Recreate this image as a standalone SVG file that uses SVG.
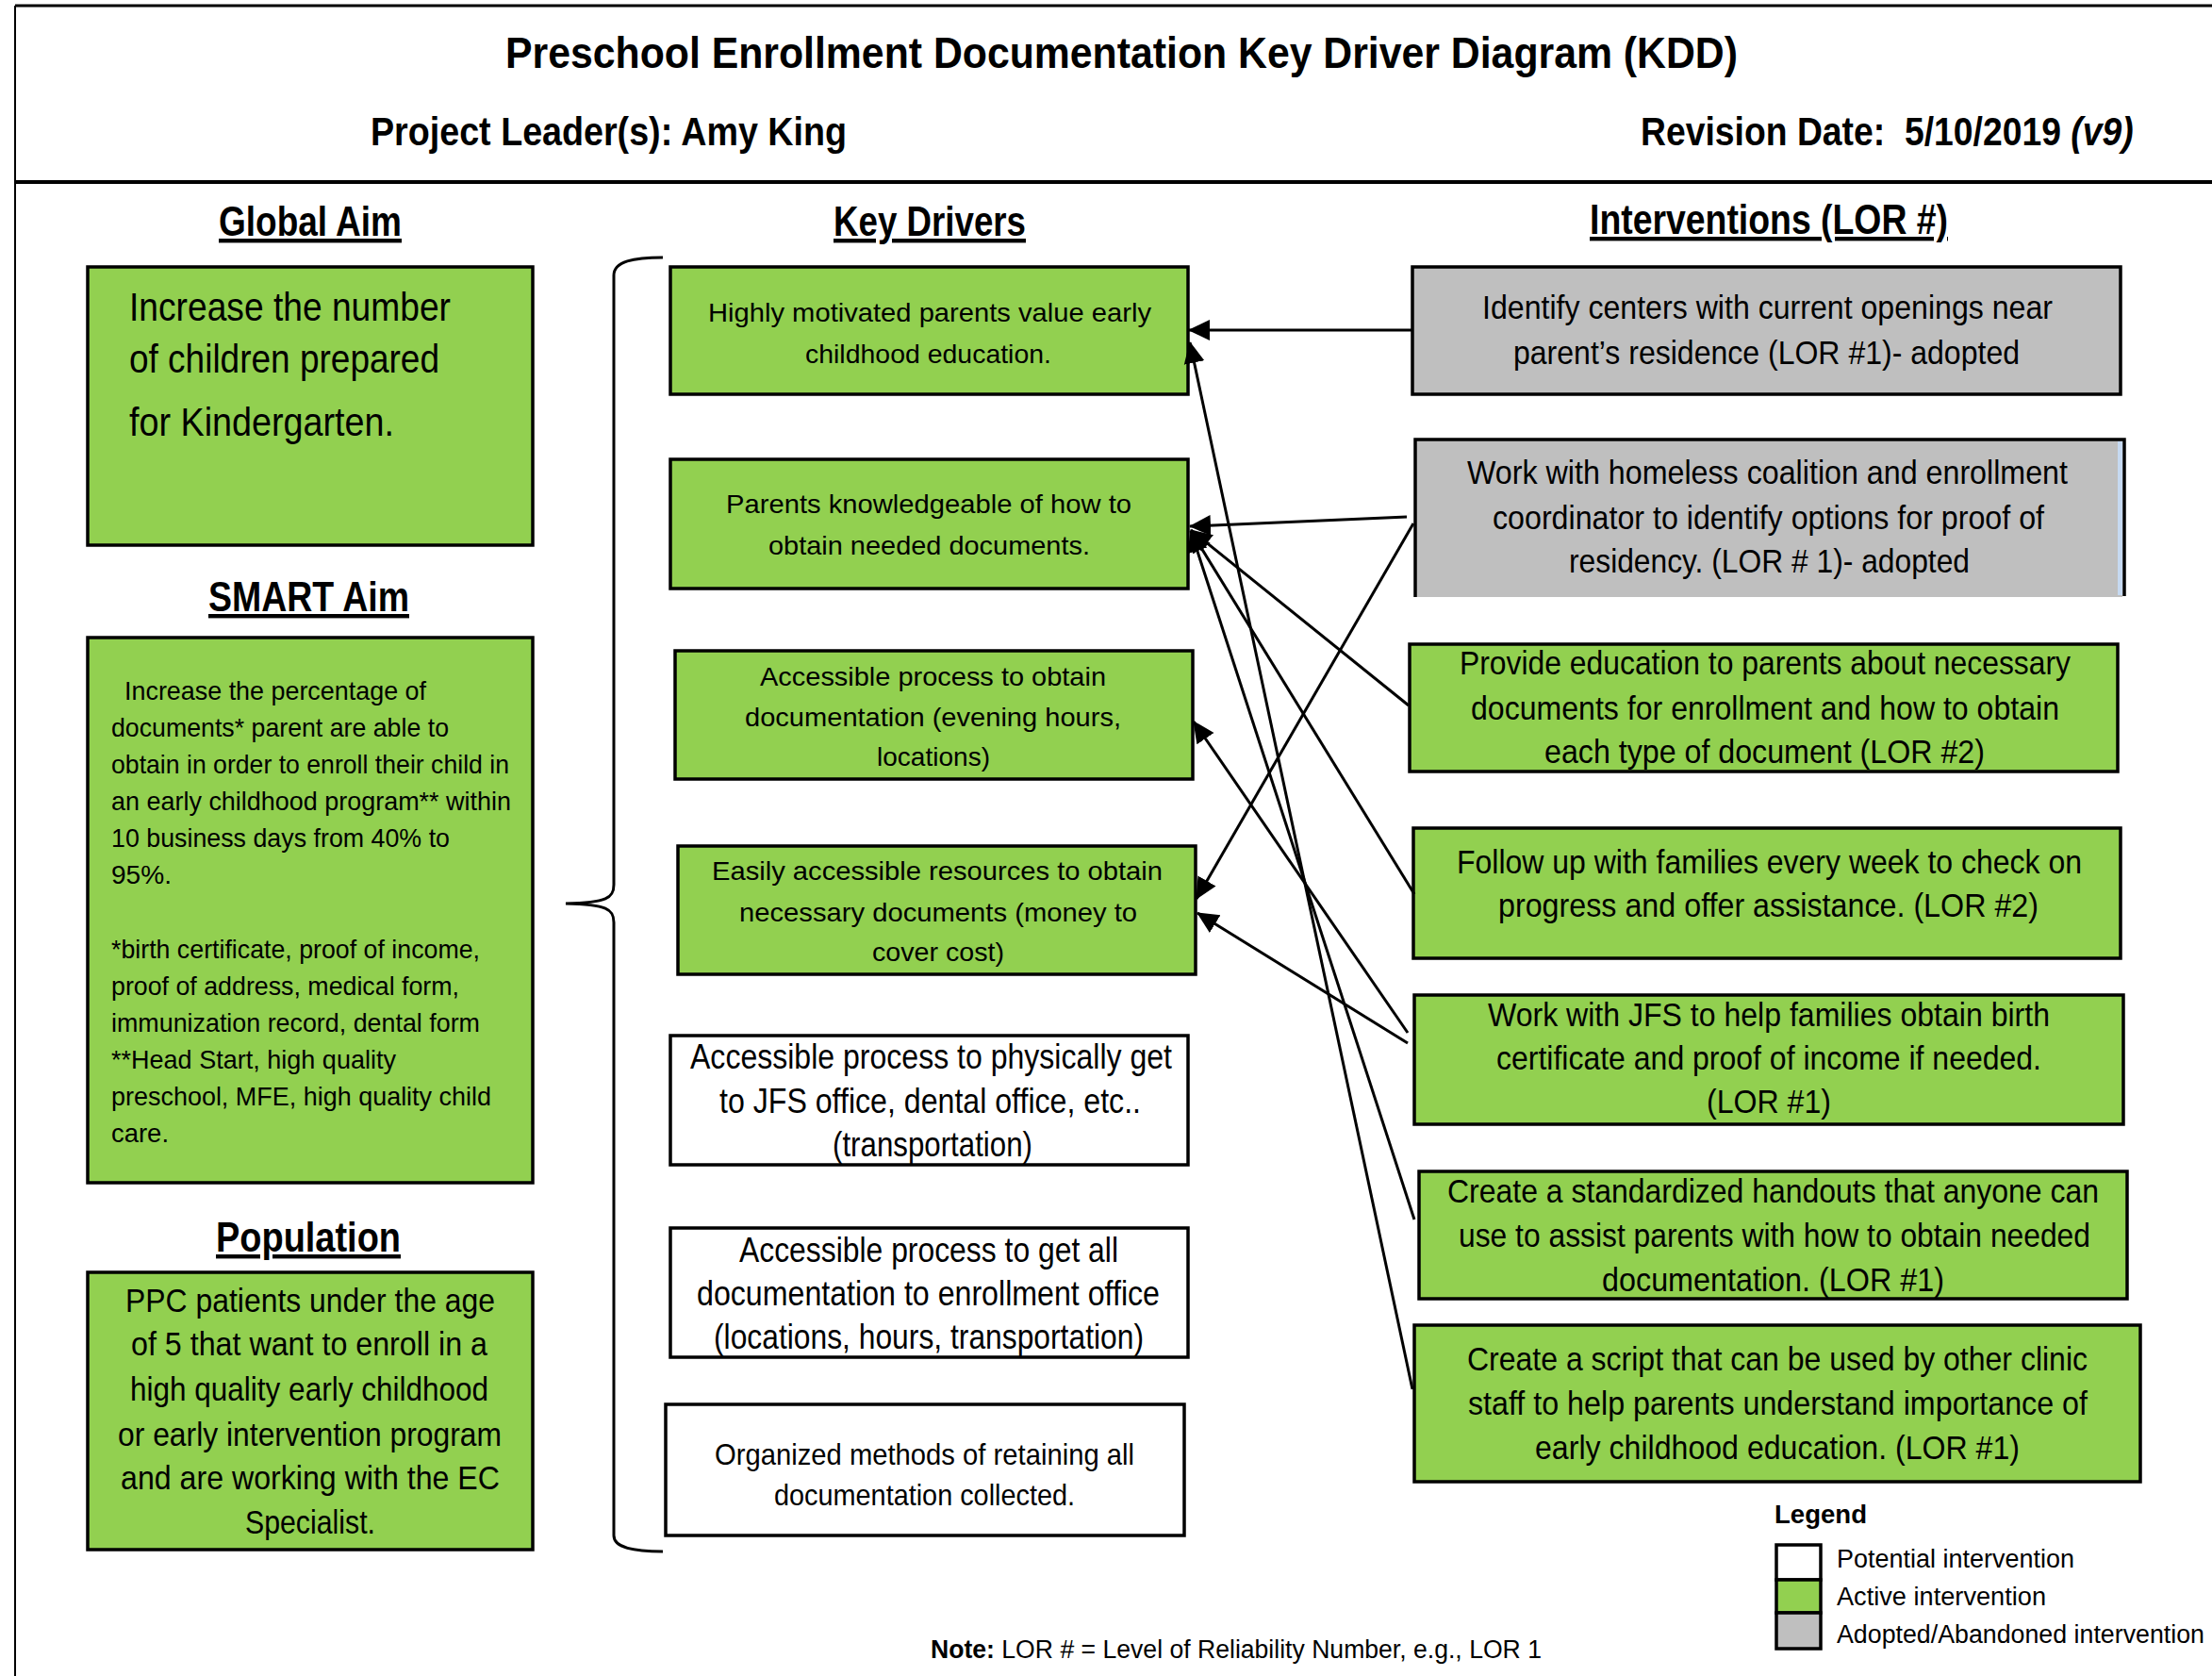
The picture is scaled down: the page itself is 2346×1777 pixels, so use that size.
<svg xmlns="http://www.w3.org/2000/svg" width="2346" height="1777" viewBox="0 0 2346 1777">
  <defs>
    <style>
      text { font-family: "Liberation Sans", Arial, sans-serif; fill: #000; }
      .t { font-weight: bold; }
      .h { font-weight: bold; font-size: 44px; text-decoration: underline; }
      .green { fill: #92D050; stroke: #000; stroke-width: 3.5; }
      .grey { fill: #BFBFBF; stroke: #000; stroke-width: 3.5; }
      .white { fill: #FFFFFF; stroke: #000; stroke-width: 3.5; }
      .frame { stroke: #000; fill: none; }
      .edge { stroke: #000; stroke-width: 3.5; fill: none; }
      .conn { stroke: #000; stroke-width: 3; fill: none; marker-end: url(#arrow); }
      .aim { font-size: 42px; }
      .smart { font-size: 28px; }
      .pop { font-size: 35px; }
      .kd { font-size: 28px; }
      .kdw { font-size: 36px; }
      .kd7 { font-size: 32px; }
      .iv { font-size: 35px; }
      .lg { font-size: 27px; }
    </style>
    <marker id="arrow" markerUnits="userSpaceOnUse" markerWidth="24" markerHeight="24" viewBox="0 0 24 24" refX="22" refY="12" orient="auto">
      <path d="M0,1 L23,12 L0,23 Z" fill="#000"/>
    </marker>
  </defs>

  <rect x="0" y="0" width="2346" height="1777" fill="#FFFFFF"/>

  <!-- page frame and header rule -->
  <g id="frame">
    <line class="frame" x1="16" y1="6" x2="2346" y2="6" stroke-width="3"/>
    <line class="frame" x1="16" y1="6" x2="16" y2="1777" stroke-width="2"/>
    <line class="frame" x1="16" y1="193" x2="2346" y2="193" stroke-width="4"/>
  </g>

  <!-- header -->
  <g id="header">
    <text class="t" x="536" y="72" font-size="47" textLength="1307" lengthAdjust="spacingAndGlyphs">Preschool Enrollment Documentation Key Driver Diagram (KDD)</text>
    <text class="t" x="393" y="154" font-size="43" textLength="505" lengthAdjust="spacingAndGlyphs">Project Leader(s): Amy King</text>
    <g transform="translate(1740,154) scale(0.868,1)">
      <text class="t" x="0" y="0" font-size="43">Revision Date:&#160; 5/10/2019 <tspan font-style="italic">(v9)</tspan></text>
    </g>
  </g>

  <!-- column headings -->
  <g id="headings">
    <text class="h" x="232" y="250" textLength="194" lengthAdjust="spacingAndGlyphs">Global Aim</text>
    <text class="h" x="884" y="250" textLength="204" lengthAdjust="spacingAndGlyphs">Key Drivers</text>
    <text class="h" x="1686" y="248" textLength="380" lengthAdjust="spacingAndGlyphs">Interventions (LOR #)</text>
    <text class="h" x="221" y="648" textLength="213" lengthAdjust="spacingAndGlyphs">SMART Aim</text>
    <text class="h" x="229" y="1327" textLength="196" lengthAdjust="spacingAndGlyphs">Population</text>
  </g>

  <!-- left column -->
  <g id="global-aim">
    <rect class="green" x="93" y="283" width="472" height="295"/>
    <text class="aim" x="137" y="340" textLength="341" lengthAdjust="spacingAndGlyphs">Increase  the number</text>
    <text class="aim" x="137" y="395" textLength="329" lengthAdjust="spacingAndGlyphs">of children  prepared</text>
    <text class="aim" x="137" y="462" textLength="281" lengthAdjust="spacingAndGlyphs">for Kindergarten.</text>
  </g>

  <g id="smart-aim">
    <rect class="green" x="93" y="676" width="472" height="578"/>
    <text class="smart" x="132" y="742" textLength="320" lengthAdjust="spacingAndGlyphs">Increase the percentage of</text>
    <text class="smart" x="118" y="781" textLength="358" lengthAdjust="spacingAndGlyphs">documents* parent are able to</text>
    <text class="smart" x="118" y="820" textLength="422" lengthAdjust="spacingAndGlyphs">obtain in order to enroll their child in</text>
    <text class="smart" x="118" y="859" textLength="424" lengthAdjust="spacingAndGlyphs">an early childhood program** within</text>
    <text class="smart" x="118" y="898" textLength="359" lengthAdjust="spacingAndGlyphs">10 business days from 40% to</text>
    <text class="smart" x="118" y="937" textLength="64" lengthAdjust="spacingAndGlyphs">95%.</text>
    <text class="smart" x="118" y="1016" textLength="391" lengthAdjust="spacingAndGlyphs">*birth certificate, proof of income,</text>
    <text class="smart" x="118" y="1055" textLength="369" lengthAdjust="spacingAndGlyphs">proof of address, medical form,</text>
    <text class="smart" x="118" y="1094" textLength="391" lengthAdjust="spacingAndGlyphs">immunization record, dental form</text>
    <text class="smart" x="118" y="1133" textLength="302" lengthAdjust="spacingAndGlyphs">**Head Start, high quality</text>
    <text class="smart" x="118" y="1172" textLength="403" lengthAdjust="spacingAndGlyphs">preschool, MFE, high quality child</text>
    <text class="smart" x="118" y="1211" textLength="61" lengthAdjust="spacingAndGlyphs">care.</text>
  </g>

  <g id="population">
    <rect class="green" x="93" y="1349" width="472" height="294"/>
    <text class="pop" x="133" y="1391" textLength="392" lengthAdjust="spacingAndGlyphs">PPC patients  under  the age</text>
    <text class="pop" x="139" y="1437" textLength="378" lengthAdjust="spacingAndGlyphs">of 5 that want to enroll  in a</text>
    <text class="pop" x="138" y="1485" textLength="380" lengthAdjust="spacingAndGlyphs">high  quality  early  childhood</text>
    <text class="pop" x="125" y="1533" textLength="407" lengthAdjust="spacingAndGlyphs">or early  intervention  program</text>
    <text class="pop" x="128" y="1579" textLength="402" lengthAdjust="spacingAndGlyphs">and are working with the EC</text>
    <text class="pop" x="260" y="1626" textLength="138" lengthAdjust="spacingAndGlyphs">Specialist.</text>
  </g>

  <!-- brace grouping the key drivers -->
  <g id="brace">
    <path d="M703 273 C672 273 651 277 651 292 L651 938 C651 952 644 957 600 958 C644 959 651 964 651 978 L651 1628 C651 1641 672 1645 703 1645" fill="none" stroke="#000" stroke-width="3"/>
  </g>

  <!-- key drivers -->
  <g id="kd1">
    <rect class="green" x="711" y="283" width="549" height="135"/>
    <text class="kd" x="751" y="341" textLength="470" lengthAdjust="spacingAndGlyphs">Highly  motivated  parents  value  early</text>
    <text class="kd" x="854" y="385" textLength="261" lengthAdjust="spacingAndGlyphs">childhood  education.</text>
  </g>
  <g id="kd2">
    <rect class="green" x="711" y="487" width="549" height="137"/>
    <text class="kd" x="770" y="544" textLength="430" lengthAdjust="spacingAndGlyphs">Parents  knowledgeable  of how to</text>
    <text class="kd" x="815" y="588" textLength="341" lengthAdjust="spacingAndGlyphs">obtain  needed  documents.</text>
  </g>
  <g id="kd3">
    <rect class="green" x="716" y="690" width="549" height="136"/>
    <text class="kd" x="806" y="727" textLength="367" lengthAdjust="spacingAndGlyphs">Accessible  process  to obtain</text>
    <text class="kd" x="790" y="770" textLength="399" lengthAdjust="spacingAndGlyphs">documentation  (evening  hours,</text>
    <text class="kd" x="930" y="812" textLength="120" lengthAdjust="spacingAndGlyphs">locations)</text>
  </g>
  <g id="kd4">
    <rect class="green" x="719" y="897" width="549" height="136"/>
    <text class="kd" x="755" y="933" textLength="478" lengthAdjust="spacingAndGlyphs">Easily  accessible  resources  to obtain</text>
    <text class="kd" x="784" y="977" textLength="422" lengthAdjust="spacingAndGlyphs">necessary  documents  (money  to</text>
    <text class="kd" x="925" y="1019" textLength="140" lengthAdjust="spacingAndGlyphs">cover cost)</text>
  </g>
  <g id="kd5">
    <rect class="white" x="711" y="1098" width="549" height="137"/>
    <text class="kdw" x="732" y="1133" textLength="511" lengthAdjust="spacingAndGlyphs">Accessible  process  to physically  get</text>
    <text class="kdw" x="763" y="1180" textLength="447" lengthAdjust="spacingAndGlyphs">to JFS office,  dental  office,  etc..</text>
    <text class="kdw" x="883" y="1226" textLength="212" lengthAdjust="spacingAndGlyphs">(transportation)</text>
  </g>
  <g id="kd6">
    <rect class="white" x="711" y="1302" width="549" height="137"/>
    <text class="kdw" x="784" y="1338" textLength="402" lengthAdjust="spacingAndGlyphs">Accessible  process  to get all</text>
    <text class="kdw" x="739" y="1384" textLength="491" lengthAdjust="spacingAndGlyphs">documentation  to enrollment  office</text>
    <text class="kdw" x="757" y="1430" textLength="456" lengthAdjust="spacingAndGlyphs">(locations,  hours,  transportation)</text>
  </g>
  <g id="kd7">
    <rect class="white" x="706" y="1489" width="550" height="139"/>
    <text class="kd7" x="758" y="1553" textLength="445" lengthAdjust="spacingAndGlyphs">Organized  methods  of retaining  all</text>
    <text class="kd7" x="821" y="1596" textLength="319" lengthAdjust="spacingAndGlyphs">documentation  collected.</text>
  </g>

  <!-- interventions -->
  <g id="iv1">
    <rect class="grey" x="1498" y="283" width="751" height="135"/>
    <text class="iv" x="1572" y="338" textLength="605" lengthAdjust="spacingAndGlyphs">Identify  centers  with  current  openings  near</text>
    <text class="iv" x="1605" y="386" textLength="537" lengthAdjust="spacingAndGlyphs">parent’s  residence  (LOR #1)- adopted</text>
  </g>
  <g id="iv2">
    <!-- open-bottomed box: black top, left and right edges, pale blue inner strip on the right -->
    <rect x="1501" y="466" width="750" height="167" fill="#BFBFBF"/>
    <rect x="2246" y="468" width="5" height="163" fill="#C6D9F1"/>
    <path class="edge" d="M1501 633 L1501 466 L2253 466 L2253 632"/>
    <text class="iv" x="1556" y="513" textLength="637" lengthAdjust="spacingAndGlyphs">Work with homeless  coalition   and enrollment</text>
    <text class="iv" x="1583" y="561" textLength="585" lengthAdjust="spacingAndGlyphs">coordinator  to identify  options  for proof of</text>
    <text class="iv" x="1664" y="607" textLength="425" lengthAdjust="spacingAndGlyphs">residency.  (LOR # 1)- adopted</text>
  </g>
  <g id="iv3">
    <rect class="green" x="1495" y="683" width="751" height="135"/>
    <text class="iv" x="1548" y="715" textLength="648" lengthAdjust="spacingAndGlyphs">Provide  education  to parents  about  necessary</text>
    <text class="iv" x="1560" y="763" textLength="624" lengthAdjust="spacingAndGlyphs">documents  for enrollment  and how to obtain</text>
    <text class="iv" x="1638" y="809" textLength="467" lengthAdjust="spacingAndGlyphs">each type of document  (LOR #2)</text>
  </g>
  <g id="iv4">
    <rect class="green" x="1499" y="878" width="750" height="138"/>
    <text class="iv" x="1545" y="926" textLength="663" lengthAdjust="spacingAndGlyphs">Follow  up with families  every week to check on</text>
    <text class="iv" x="1589" y="972" textLength="573" lengthAdjust="spacingAndGlyphs">progress  and offer assistance.  (LOR #2)</text>
  </g>
  <g id="iv5">
    <rect class="green" x="1500" y="1055" width="752" height="137"/>
    <text class="iv" x="1578" y="1088" textLength="596" lengthAdjust="spacingAndGlyphs">Work with JFS to help families  obtain  birth</text>
    <text class="iv" x="1587" y="1134" textLength="578" lengthAdjust="spacingAndGlyphs">certificate  and proof of income  if needed.</text>
    <text class="iv" x="1810" y="1180" textLength="132" lengthAdjust="spacingAndGlyphs">(LOR #1)</text>
  </g>
  <g id="iv6">
    <rect class="green" x="1505" y="1242" width="751" height="135"/>
    <text class="iv" x="1535" y="1275" textLength="691" lengthAdjust="spacingAndGlyphs">Create a standardized  handouts  that anyone  can</text>
    <text class="iv" x="1547" y="1322" textLength="670" lengthAdjust="spacingAndGlyphs">use to assist parents with how to obtain  needed</text>
    <text class="iv" x="1699" y="1369" textLength="363" lengthAdjust="spacingAndGlyphs">documentation.  (LOR #1)</text>
  </g>
  <g id="iv7">
    <rect class="green" x="1500" y="1405" width="770" height="166"/>
    <text class="iv" x="1556" y="1453" textLength="658" lengthAdjust="spacingAndGlyphs">Create a script that can be used by other clinic</text>
    <text class="iv" x="1557" y="1500" textLength="657" lengthAdjust="spacingAndGlyphs">staff to help parents  understand  importance  of</text>
    <text class="iv" x="1628" y="1547" textLength="514" lengthAdjust="spacingAndGlyphs">early childhood  education.  (LOR #1)</text>
  </g>

  <!-- connectors: intervention -> key driver -->
  <g id="connectors">
    <line class="conn" x1="1498" y1="350" x2="1261" y2="350"/>
    <line class="conn" x1="1498" y1="1473" x2="1262" y2="363"/>
    <line class="conn" x1="1492" y1="548" x2="1262" y2="558"/>
    <line class="conn" x1="1494" y1="748" x2="1263" y2="562"/>
    <line class="conn" x1="1500" y1="948" x2="1263" y2="563"/>
    <line class="conn" x1="1500" y1="1293" x2="1263" y2="563"/>
    <line class="conn" x1="1493" y1="1095" x2="1266" y2="765"/>
    <line class="conn" x1="1499" y1="555" x2="1269" y2="953"/>
    <line class="conn" x1="1493" y1="1106" x2="1270" y2="968"/>
  </g>

  <!-- legend -->
  <g id="legend">
    <text class="t" x="1882" y="1615" font-size="27" textLength="98" lengthAdjust="spacingAndGlyphs">Legend</text>
    <rect class="white" x="1884" y="1638" width="47" height="37" stroke-width="3"/>
    <rect class="green" x="1884" y="1675" width="47" height="35" stroke-width="3"/>
    <rect class="grey" x="1884" y="1710" width="47" height="38" stroke-width="3"/>
    <text class="lg" x="1948" y="1662" textLength="252" lengthAdjust="spacingAndGlyphs">Potential intervention</text>
    <text class="lg" x="1948" y="1702" textLength="222" lengthAdjust="spacingAndGlyphs">Active intervention</text>
    <text class="lg" x="1948" y="1742" textLength="390" lengthAdjust="spacingAndGlyphs">Adopted/Abandoned intervention</text>
  </g>

  <g id="note">
    <text font-size="27" x="987" y="1758" textLength="648" lengthAdjust="spacingAndGlyphs"><tspan font-weight="bold">Note:</tspan> LOR # = Level of Reliability Number, e.g., LOR 1</text>
  </g>
</svg>
